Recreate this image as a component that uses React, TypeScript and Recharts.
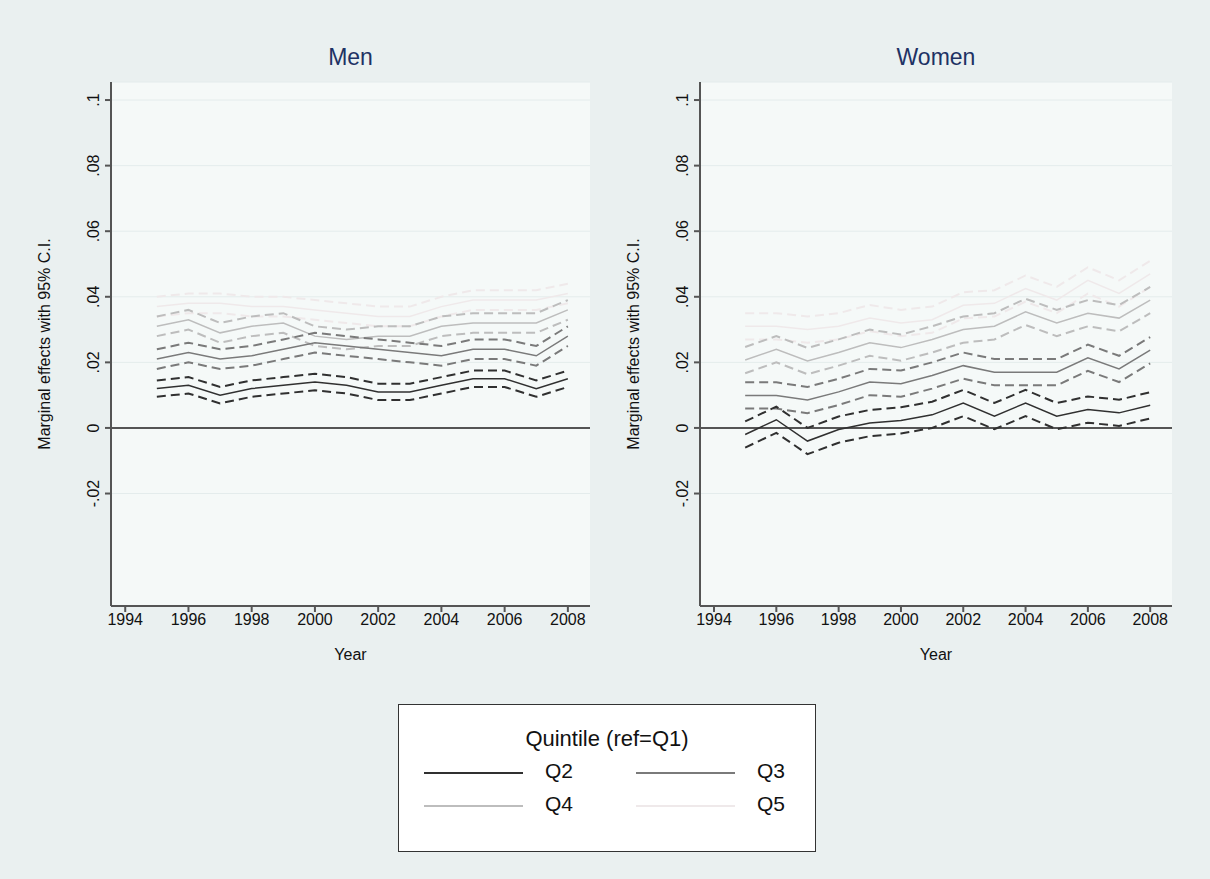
import { CartesianGrid, Line, LineChart, ReferenceLine, XAxis, YAxis } from "recharts";

const years = [1995, 1996, 1997, 1998, 1999, 2000, 2001, 2002, 2003, 2004, 2005, 2006, 2007, 2008];
const xTicks = [1994, 1996, 1998, 2000, 2002, 2004, 2006, 2008];
const yTicks = [-0.02, 0, 0.02, 0.04, 0.06, 0.08, 0.1];
const yTickLabels = ["-.02", "0", ".02", ".04", ".06", ".08", ".1"];

// Men
const menQ2 = [0.012, 0.013, 0.01, 0.012, 0.013, 0.014, 0.013, 0.011, 0.011, 0.013, 0.015, 0.015, 0.012, 0.015];
const menQ2Lo = [0.0095, 0.0105, 0.0075, 0.0095, 0.0105, 0.0115, 0.0105, 0.0085, 0.0085, 0.0105, 0.0125, 0.0125, 0.0095, 0.0125];
const menQ2Hi = [0.0145, 0.0155, 0.0125, 0.0145, 0.0155, 0.0165, 0.0155, 0.0135, 0.0135, 0.0155, 0.0175, 0.0175, 0.0145, 0.0175];
const menQ3 = [0.021, 0.023, 0.021, 0.022, 0.024, 0.026, 0.025, 0.024, 0.023, 0.022, 0.024, 0.024, 0.022, 0.028];
const menQ3Lo = [0.018, 0.02, 0.018, 0.019, 0.021, 0.023, 0.022, 0.021, 0.02, 0.019, 0.021, 0.021, 0.019, 0.025];
const menQ3Hi = [0.024, 0.026, 0.024, 0.025, 0.027, 0.029, 0.028, 0.027, 0.026, 0.025, 0.027, 0.027, 0.025, 0.031];
const menQ4 = [0.031, 0.033, 0.029, 0.031, 0.032, 0.028, 0.027, 0.028, 0.028, 0.031, 0.032, 0.032, 0.032, 0.036];
const menQ4Lo = [0.028, 0.03, 0.026, 0.028, 0.029, 0.025, 0.024, 0.025, 0.025, 0.028, 0.029, 0.029, 0.029, 0.033];
const menQ4Hi = [0.034, 0.036, 0.032, 0.034, 0.035, 0.031, 0.03, 0.031, 0.031, 0.034, 0.035, 0.035, 0.035, 0.039];
const menQ5 = [0.037, 0.038, 0.038, 0.037, 0.037, 0.036, 0.035, 0.034, 0.034, 0.037, 0.039, 0.039, 0.039, 0.041];
const menQ5Lo = [0.034, 0.035, 0.035, 0.034, 0.034, 0.033, 0.032, 0.031, 0.031, 0.034, 0.036, 0.036, 0.036, 0.038];
const menQ5Hi = [0.04, 0.041, 0.041, 0.04, 0.04, 0.039, 0.038, 0.037, 0.037, 0.04, 0.042, 0.042, 0.042, 0.044];

// Women
const womenQ2 = [-0.002, 0.0025, -0.004, -0.0005, 0.0015, 0.0023, 0.004, 0.0076, 0.0036, 0.0076, 0.0036, 0.0056, 0.0046, 0.0069];
const womenQ2Lo = [-0.006, -0.0015, -0.008, -0.0045, -0.0025, -0.0017, 0, 0.0036, -0.0004, 0.0036, -0.0004, 0.0016, 0.0006, 0.0029];
const womenQ2Hi = [0.002, 0.0065, 0, 0.0035, 0.0055, 0.0063, 0.008, 0.0116, 0.0076, 0.0116, 0.0076, 0.0096, 0.0086, 0.0109];
const womenQ3 = [0.0099, 0.0099, 0.0085, 0.011, 0.014, 0.0135, 0.016, 0.019, 0.017, 0.017, 0.017, 0.0214, 0.018, 0.0237];
const womenQ3Lo = [0.0059, 0.0059, 0.0045, 0.007, 0.01, 0.0095, 0.012, 0.015, 0.013, 0.013, 0.013, 0.0174, 0.014, 0.0197];
const womenQ3Hi = [0.0139, 0.0139, 0.0125, 0.015, 0.018, 0.0175, 0.02, 0.023, 0.021, 0.021, 0.021, 0.0254, 0.022, 0.0277];
const womenQ4 = [0.0207, 0.024, 0.0204, 0.023, 0.026, 0.0245, 0.027, 0.03, 0.031, 0.0354, 0.032, 0.035, 0.0335, 0.039];
const womenQ4Lo = [0.0167, 0.02, 0.0164, 0.019, 0.022, 0.0205, 0.023, 0.026, 0.027, 0.0314, 0.028, 0.031, 0.0295, 0.035];
const womenQ4Hi = [0.0247, 0.028, 0.0244, 0.027, 0.03, 0.0285, 0.031, 0.034, 0.035, 0.0394, 0.036, 0.039, 0.0375, 0.043];
const womenQ5 = [0.031, 0.031, 0.03, 0.031, 0.0335, 0.032, 0.033, 0.0374, 0.038, 0.0425, 0.039, 0.045, 0.041, 0.047];
const womenQ5Lo = [0.027, 0.027, 0.026, 0.027, 0.0295, 0.028, 0.029, 0.0334, 0.034, 0.0385, 0.035, 0.041, 0.037, 0.043];
const womenQ5Hi = [0.035, 0.035, 0.034, 0.035, 0.0375, 0.036, 0.037, 0.0414, 0.042, 0.0465, 0.043, 0.049, 0.045, 0.051];

const COLORS = { q2: "#303030", q3: "#7a7a7a", q4: "#bdbdbd", q5: "#efe9ea" };
const FONT = "'Liberation Sans', Arial, sans-serif";

type Series = [number[], number[], number[]];

function buildRows(q2: Series, q3: Series, q4: Series, q5: Series) {
  return years.map((year, i) => ({
    year,
    q2: q2[0][i], q2lo: q2[1][i], q2hi: q2[2][i],
    q3: q3[0][i], q3lo: q3[1][i], q3hi: q3[2][i],
    q4: q4[0][i], q4lo: q4[1][i], q4hi: q4[2][i],
    q5: q5[0][i], q5lo: q5[1][i], q5hi: q5[2][i],
  }));
}

const menRows = buildRows([menQ2, menQ2Lo, menQ2Hi], [menQ3, menQ3Lo, menQ3Hi], [menQ4, menQ4Lo, menQ4Hi], [menQ5, menQ5Lo, menQ5Hi]);
const womenRows = buildRows(
  [womenQ2, womenQ2Lo, womenQ2Hi],
  [womenQ3, womenQ3Lo, womenQ3Hi],
  [womenQ4, womenQ4Lo, womenQ4Hi],
  [womenQ5, womenQ5Lo, womenQ5Hi],
);

function YTick({ x, y, payload }: any) {
  const idx = yTicks.indexOf(payload.value);
  return (
    <text x={x - 4} y={y} transform={`rotate(-90 ${x - 4} ${y})`} textAnchor="middle" fontSize={16} fill="#111" fontFamily={FONT}>
      {yTickLabels[idx]}
    </text>
  );
}

function Panel({ title, rows, left, width }: { title: string; rows: any[]; left: number; width: number }) {
  const keys = ["q5", "q4", "q3", "q2"] as const;
  const plotW = width - 121;
  return (
    <div style={{ position: "absolute", left, top: 0, width, height: 700 }}>
      <div style={{ position: "absolute", left: 111, width: plotW, top: 44, textAlign: "center", fontSize: 23, color: "#1e3264", fontFamily: FONT }}>
        {title}
      </div>
      <div
        style={{
          position: "absolute", left: 45, top: 344, transform: "translate(-50%, -50%) rotate(-90deg)",
          whiteSpace: "nowrap", fontSize: 16, fontFamily: FONT, color: "#111",
        }}
      >
        Marginal effects with 95% C.I.
      </div>
      <div style={{ position: "absolute", left: 111, width: plotW, top: 646, textAlign: "center", fontSize: 16, fontFamily: FONT, color: "#111" }}>
        Year
      </div>
      <LineChart width={width} height={700} data={rows} margin={{ top: 82, right: 10, bottom: 64, left: 61 }}>
        <CartesianGrid vertical={false} stroke="#e4ecec" fill="#f5f9f8" />
        <XAxis
          dataKey="year"
          type="number"
          domain={[1993.55, 2008.7]}
          ticks={xTicks}
          allowDataOverflow
          height={30}
          stroke="#555"
          strokeWidth={2}
          tickSize={6}
          tick={{ fontSize: 16, fill: "#111", fontFamily: FONT }}
        />
        <YAxis
          type="number"
          domain={[-0.0543, 0.1055]}
          ticks={yTicks}
          allowDataOverflow
          width={50}
          stroke="#555"
          strokeWidth={2}
          tickSize={6}
          tick={<YTick />}
        />
        <ReferenceLine y={0} stroke="#555" strokeWidth={2} />
        {keys.map((k) => [
          <Line key={k + "lo"} dataKey={k + "lo"} stroke={COLORS[k]} strokeWidth={2} strokeDasharray="9 5" dot={false} isAnimationActive={false} />,
          <Line key={k + "hi"} dataKey={k + "hi"} stroke={COLORS[k]} strokeWidth={2} strokeDasharray="9 5" dot={false} isAnimationActive={false} />,
          <Line key={k} dataKey={k} stroke={COLORS[k]} strokeWidth={1.5} dot={false} isAnimationActive={false} />,
        ])}
      </LineChart>
    </div>
  );
}

function LegendRow({ color, label, x, y }: { color: string; label: string; x: number; y: number }) {
  return (
    <>
      <div style={{ position: "absolute", left: x, top: y, width: 99, height: 2, background: color }} />
      <div style={{ position: "absolute", left: x + 121, top: y - 13, fontSize: 21, fontFamily: FONT, color: "#111" }}>{label}</div>
    </>
  );
}

export default function App() {
  return (
    <div style={{ position: "fixed", left: 0, top: 0, width: 1210, height: 879, background: "#eaf0f0", fontFamily: FONT }}>
      <Panel title="Men" rows={menRows} left={0} width={600} />
      <Panel title="Women" rows={womenRows} left={589} width={593} />
      <div style={{ position: "absolute", left: 398, top: 704, width: 416, height: 146, border: "1.5px solid #333", background: "#fff" }}>
        <div style={{ position: "absolute", left: 0, width: 416, top: 21, textAlign: "center", fontSize: 22, color: "#111" }}>
          Quintile (ref=Q1)
        </div>
        <LegendRow color={COLORS.q2} label="Q2" x={25} y={67} />
        <LegendRow color={COLORS.q3} label="Q3" x={237} y={67} />
        <LegendRow color={COLORS.q4} label="Q4" x={25} y={100} />
        <LegendRow color={COLORS.q5} label="Q5" x={237} y={100} />
      </div>
    </div>
  );
}
